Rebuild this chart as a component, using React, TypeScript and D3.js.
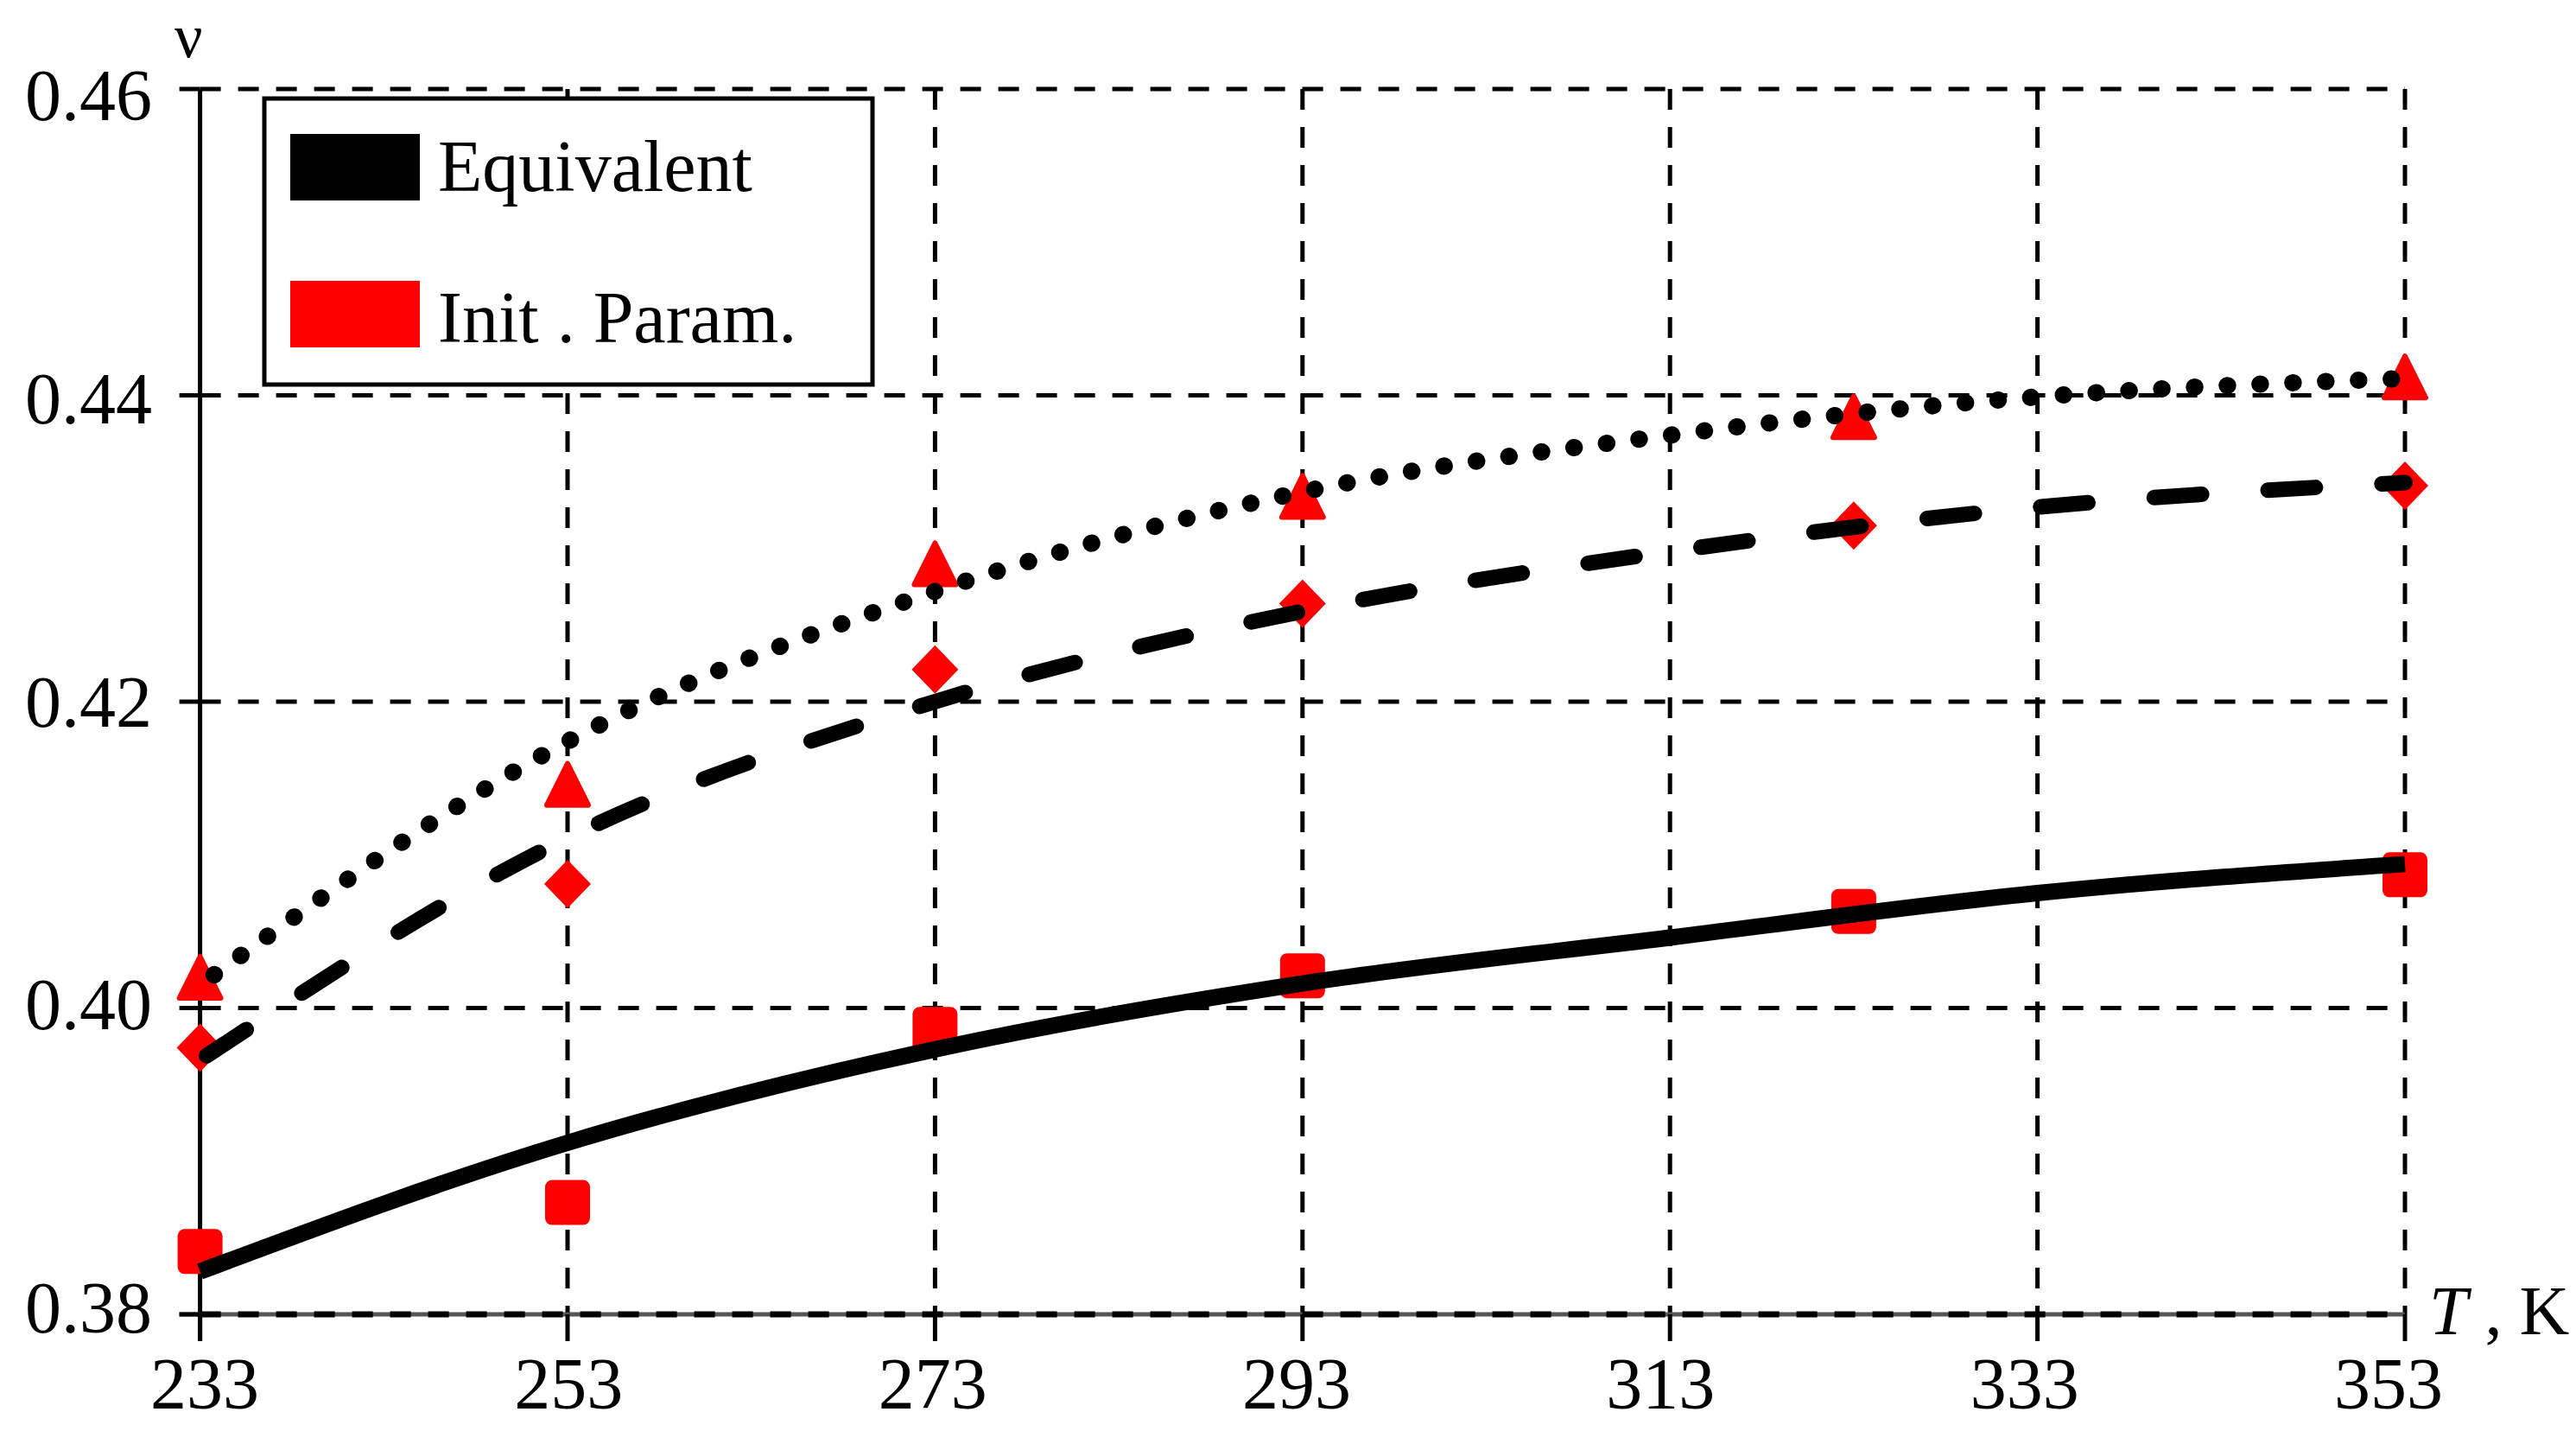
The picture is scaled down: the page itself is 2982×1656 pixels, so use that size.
import * as d3 from 'd3';

// axis ticks
const xTicks = [233, 253, 273, 293, 313, 333, 353];
const yTicks = [0.38, 0.4, 0.42, 0.44, 0.46];

// fitted curves, sampled at the x ticks
const curveT = [233, 253, 273, 293, 313, 333, 353];
const equivalent = [0.3828, 0.3912, 0.3973, 0.4016, 0.4046, 0.4075, 0.4094];
const dashedFit = [0.3966, 0.4111, 0.42, 0.4259, 0.4298, 0.4327, 0.4343];
const dottedFit = [0.4015, 0.4174, 0.4272, 0.4337, 0.4374, 0.4399, 0.4411];

// measured points (Init. Param.)
const pointT = [233, 253, 273, 293, 323, 353];
const squares = [0.3841, 0.3873, 0.3986, 0.4021, 0.4063, 0.4087];
const diamonds = [0.3974, 0.4081, 0.4221, 0.4264, 0.4315, 0.4341];
const triangles = [0.402, 0.4146, 0.429, 0.4334, 0.4386, 0.4412];

const W = 2982;
const H = 1656;
const FONT = '"Liberation Serif", "Times New Roman", serif';
const RED = '#ff0000';

export default function App() {
  const x = d3.scaleLinear().domain([233, 353]).range([231.6, 2784]);
  const y = d3.scaleLinear().domain([0.38, 0.46]).range([1521, 103]);
  // tick labels in the source sit a little inside their ticks
  const xLab = d3.scaleLinear().domain([233, 353]).range([237, 2765]);
  const yLab = d3.scaleLinear().domain([0.38, 0.46]).range([1542, 139]);

  const line = d3
    .line<number>()
    .x((_, i) => x(curveT[i]))
    .y((d) => y(d))
    .curve(d3.curveMonotoneX);

  const grid = { stroke: '#000', strokeWidth: 5, strokeDasharray: '24 20' };
  const x0 = x(233);
  const x1 = x(353);
  const yTop = y(0.46);
  const yBot = y(0.38);

  const tri = (cx: number, cy: number) =>
    `M${cx},${cy - 24}L${cx + 24},${cy + 24}L${cx - 24},${cy + 24}Z`;
  const dia = (cx: number, cy: number) =>
    `M${cx},${cy - 28}L${cx + 27},${cy}L${cx},${cy + 28}L${cx - 27},${cy}Z`;

  return (
    <svg
      width={W}
      height={H}
      style={{ position: 'absolute', left: 0, top: 0, background: '#fff' }}
      fontFamily={FONT}
    >
      {/* horizontal grid */}
      {yTicks.slice(1).map((v) => (
        <line key={'h' + v} x1={x0} x2={x1} y1={y(v)} y2={y(v)} {...grid} />
      ))}
      {/* vertical grid */}
      {xTicks.slice(1).map((v) => (
        <line key={'v' + v} x1={x(v)} x2={x(v)} y1={yTop} y2={yBot} {...grid} />
      ))}

      {/* axes */}
      <line x1={x0} x2={x0} y1={yTop} y2={yBot + 31} stroke="#000" strokeWidth={5} />
      <line x1={x0 - 24} x2={x1} y1={yBot} y2={yBot} stroke="#555" strokeWidth={5} />
      <line x1={x0} x2={x1} y1={yBot} y2={yBot} stroke="#000" strokeWidth={7} strokeDasharray="24 20" />
      {yTicks.map((v) => (
        <line key={'yt' + v} x1={x0 - 24} x2={x0} y1={y(v)} y2={y(v)} stroke="#000" strokeWidth={5} />
      ))}
      {xTicks.map((v) => (
        <line key={'xt' + v} x1={x(v)} x2={x(v)} y1={yBot} y2={yBot + 31} stroke="#000" strokeWidth={5} />
      ))}

      {/* tick labels */}
      {yTicks.map((v) => (
        <text key={'yl' + v} x={176} y={yLab(v)} textAnchor="end" fontSize={84}>
          {v.toFixed(2)}
        </text>
      ))}
      {xTicks.map((v) => (
        <text key={'xl' + v} x={xLab(v)} y={1630} textAnchor="middle" fontSize={84}>
          {v}
        </text>
      ))}
      <text x={202} y={66} fontSize={72}>ν</text>
      <text x={2812} y={1544} fontSize={80}>
        <tspan fontStyle="italic">T</tspan>
        <tspan> , K</tspan>
      </text>

      {/* legend */}
      <rect x={306} y={114} width={704} height={331} fill="#fff" stroke="#000" strokeWidth={5} />
      <rect x={336} y={155} width={150} height={77} fill="#000" />
      <rect x={336} y={325} width={150} height={77} fill={RED} />
      <text x={507} y={221} fontSize={84}>Equivalent</text>
      <text x={507} y={396} fontSize={84}>Init . Param.</text>

      {/* markers */}
      {pointT.map((t, i) => (
        <rect
          key={'s' + t}
          x={x(t) - 26}
          y={y(squares[i]) - 26}
          width={52}
          height={52}
          rx={8}
          fill={RED}
        />
      ))}
      {pointT.map((t, i) => (
        <path key={'d' + t} d={dia(x(t), y(diamonds[i]))} fill={RED} />
      ))}
      {pointT.map((t, i) => (
        <path
          key={'t' + t}
          d={tri(x(t), y(triangles[i]))}
          fill={RED}
          stroke={RED}
          strokeWidth={6}
          strokeLinejoin="round"
        />
      ))}

      {/* fitted curves */}
      <path d={line(equivalent) ?? ''} fill="none" stroke="#000" strokeWidth={19} />
      <path
        d={line(dashedFit) ?? ''}
        fill="none"
        stroke="#000"
        strokeWidth={18}
        strokeLinecap="round"
        strokeDasharray="55 77"
        strokeDashoffset={-9}
      />
      <path
        d={line(dottedFit) ?? ''}
        fill="none"
        stroke="#000"
        strokeWidth={20}
        strokeLinecap="round"
        strokeDasharray="0.5 37.5"
        strokeDashoffset={-20}
      />
    </svg>
  );
}
